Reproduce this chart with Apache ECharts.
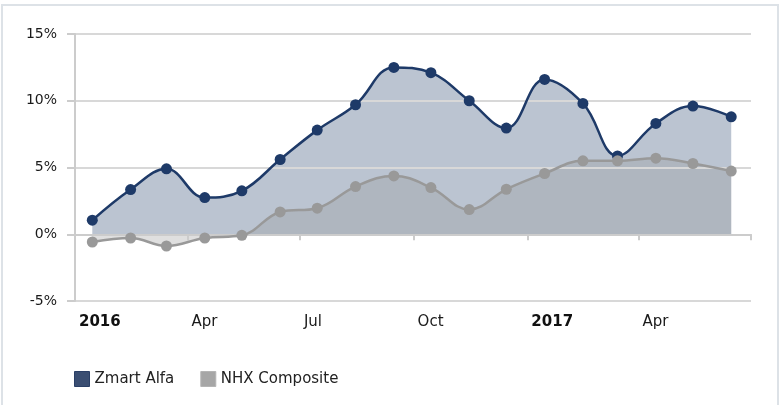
<!DOCTYPE html>
<html>
<head>
<meta charset="utf-8">
<script src="https://cdn.jsdelivr.net/npm/echarts@6/dist/echarts.min.js"></script>
<style>
  html, body { margin: 0; padding: 0; background: #ffffff; }
  #chart { width: 780px; height: 405px; }
</style>
</head>
<body>
<div id="chart"></div>
<script>
// Monthly observations (mid-month), cumulative return in %
const months = [
  '2016-01-15', '2016-02-15', '2016-03-15', '2016-04-15', '2016-05-15', '2016-06-15',
  '2016-07-15', '2016-08-15', '2016-09-15', '2016-10-15', '2016-11-15', '2016-12-15',
  '2017-01-15', '2017-02-15', '2017-03-15', '2017-04-15', '2017-05-15', '2017-06-15'
];
const zmartAlfa = [1.05, 3.35, 4.9, 2.75, 3.25, 5.6, 7.8, 9.7, 12.5, 12.1, 10.0, 7.95, 11.6, 9.8, 5.87, 8.3, 9.6, 8.8];
const nhxComposite = [-0.58, -0.28, -0.88, -0.28, -0.08, 1.67, 1.95, 3.57, 4.37, 3.5, 1.85, 3.37, 4.55, 5.5, 5.5, 5.7, 5.3, 4.73];

// Quarter boundaries on the time axis
const tickDates = ['2016-01-01', '2016-04-01', '2016-07-01', '2016-10-01', '2017-01-01', '2017-04-01', '2017-07-01'];
const labelDates = ['2016-01-01', '2016-04-01', '2016-07-01', '2016-10-01', '2017-01-01', '2017-04-01'];
const monthNames = ['Jan', 'Feb', 'Mar', 'Apr', 'May', 'Jun', 'Jul', 'Aug', 'Sep', 'Oct', 'Nov', 'Dec'];

const yTicks = { min: -5, max: 15, step: 5 };

const FONT = "'DejaVu Sans'";
const NAVY = '#1e3a68';
const GREY = '#999999';

const ts = s => new Date(s + 'T00:00:00Z').getTime();
const pairs = vals => months.map((m, i) => [ts(m), vals[i]]);

const chart = echarts.init(document.getElementById('chart'), null, { renderer: 'canvas' });

const option = {
  animation: false,
  backgroundColor: '#ffffff',
  textStyle: { fontFamily: FONT },
  graphic: [{
    type: 'rect',
    z: -10,
    silent: true,
    shape: { x: 2, y: 5, width: 776, height: 440 },
    style: { fill: 'none', stroke: '#dde2e7', lineWidth: 2 }
  }],
  grid: { left: 75, right: 29, top: 34, bottom: 104, containLabel: false },
  legend: {
    left: 74,
    top: 371,
    padding: 0,
    icon: 'rect',
    itemWidth: 15,
    itemHeight: 15,
    itemGap: 26,
    textStyle: { fontFamily: FONT, fontSize: 15, color: '#222222' },
    data: [
      { name: 'Zmart Alfa', itemStyle: { color: '#3a4e72', borderColor: '#2a3f66', borderWidth: 1 } },
      { name: 'NHX Composite', itemStyle: { color: '#a6a6a6', borderColor: '#b4b4b4', borderWidth: 1 } }
    ]
  },
  xAxis: {
    type: 'value',
    z: 2,
    min: ts(tickDates[0]),
    max: ts(tickDates[tickDates.length - 1]),
    axisLine: { show: true, lineStyle: { color: '#cccccc', width: 2 } },
    axisTick: {
      show: true,
      length: 6,
      customValues: tickDates.map(ts),
      lineStyle: { color: '#cccccc', width: 2 }
    },
    splitLine: { show: false },
    axisLabel: {
      customValues: labelDates.map(ts),
      align: 'left',
      margin: 14,
      padding: [0, 0, 0, 4],
      fontFamily: FONT,
      fontSize: 15,
      color: '#1a1a1a',
      formatter: function (v) {
        const d = new Date(v);
        const m = d.getUTCMonth();
        return m === 0 ? '{yr|' + d.getUTCFullYear() + '}' : monthNames[m];
      },
      rich: {
        yr: { fontFamily: FONT, fontSize: 15, fontWeight: 'bold', color: '#111111' }
      }
    }
  },
  yAxis: {
    type: 'value',
    z: 2,
    min: yTicks.min,
    max: yTicks.max,
    interval: yTicks.step,
    axisLine: { show: true, lineStyle: { color: '#cccccc', width: 2 } },
    axisTick: { show: true, length: 8, lineStyle: { color: '#cccccc', width: 2 } },
    splitLine: { show: true, lineStyle: { color: '#d8d8d8', width: 2 } },
    axisLabel: {
      margin: 18,
      fontFamily: FONT,
      fontSize: 14,
      color: '#1a1a1a',
      formatter: '{value}%'
    }
  },
  series: [
    // filled areas sit beneath the grid lines
    {
      name: 'Zmart Alfa',
      type: 'line',
      z: 1,
      smooth: 0.4,
      data: pairs(zmartAlfa),
      showSymbol: false,
      lineStyle: { width: 0, opacity: 0 },
      itemStyle: { color: NAVY },
      areaStyle: { color: 'rgba(30,58,104,0.3)', opacity: 1, origin: 'auto' },
      silent: true
    },
    {
      name: 'NHX Composite',
      type: 'line',
      z: 1,
      smooth: 0.4,
      data: pairs(nhxComposite),
      showSymbol: false,
      lineStyle: { width: 0, opacity: 0 },
      itemStyle: { color: GREY },
      areaStyle: { color: 'rgba(150,150,150,0.3)', opacity: 1, origin: 'auto' },
      silent: true
    },
    // lines and markers above the grid lines
    {
      name: 'Zmart Alfa',
      type: 'line',
      z: 3,
      smooth: 0.4,
      data: pairs(zmartAlfa),
      symbol: 'circle',
      symbolSize: 11,
      showSymbol: true,
      lineStyle: { color: NAVY, width: 2.5 },
      itemStyle: { color: NAVY }
    },
    {
      name: 'NHX Composite',
      type: 'line',
      z: 3,
      smooth: 0.4,
      data: pairs(nhxComposite),
      symbol: 'circle',
      symbolSize: 11,
      showSymbol: true,
      lineStyle: { color: GREY, width: 2.5 },
      itemStyle: { color: GREY }
    }
  ]
};

chart.setOption(option);
</script>
</body>
</html>
